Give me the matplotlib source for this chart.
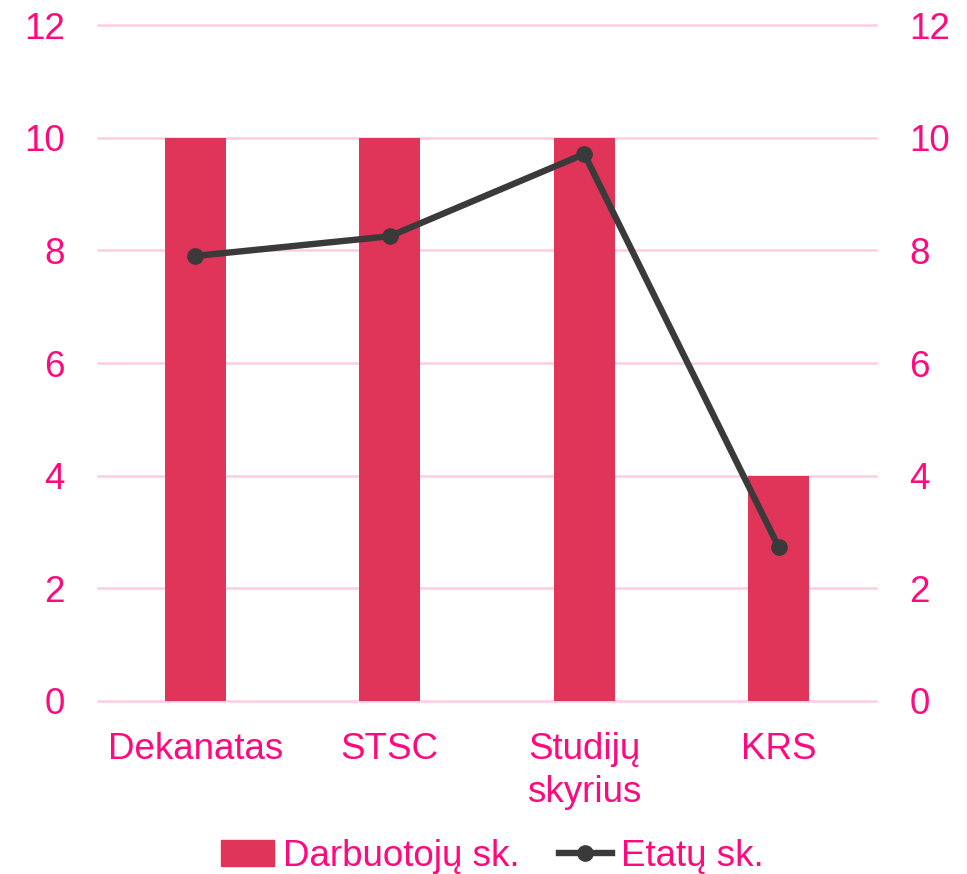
import matplotlib
matplotlib.use("Agg")
import matplotlib.pyplot as plt
from matplotlib.lines import Line2D
from matplotlib.patches import Patch

categories = ["Dekanatas", "STSC", "Studijų\nskyrius", "KRS"]
darbuotoju = [10, 10, 10, 4]
etatu = [7.9, 8.25, 9.71, 2.73]
yticks = [0, 2, 4, 6, 8, 10, 12]

bar_color = "#E03459"
text_color = "#FF0A7E"
line_color = "#3A3A3A"
grid_color = "#FFCCE3"

plt.rcParams['font.family'] = ['Liberation Sans', 'DejaVu Sans']

fig = plt.figure(figsize=(9.67, 8.74), dpi=100)
ax = fig.add_axes([98/967, 1 - 701/874, (876-98)/967, (701-25)/874])
x = list(range(len(categories)))
ax.bar(x, darbuotoju, width=0.314, color=bar_color, zorder=2)
ax.plot(x, etatu, color=line_color, lw=4.6, marker='o', markersize=11, zorder=3)

ax.set_xlim(-0.5, len(categories) - 0.5)
ax.set_ylim(0, 12)
ax.set_yticks(yticks)
ax.set_yticklabels([str(v) for v in yticks])
ax.set_xticks(x)
ax.set_xticklabels(categories, linespacing=1.3)
for s in ax.spines.values():
    s.set_visible(False)
ax.grid(axis='y', color=grid_color, lw=1.8, zorder=0)
for gl in ax.get_ygridlines():
    gl.set_clip_on(False)
ax.tick_params(axis='both', length=0, labelsize=26.5, labelcolor=text_color)
ax.tick_params(axis='y', pad=24)
ax.tick_params(axis='x', pad=22)

ax2 = ax.twinx()
ax2.set_ylim(0, 12)
ax2.set_yticks(yticks)
ax2.set_yticklabels([str(v) for v in yticks])
for s in ax2.spines.values():
    s.set_visible(False)
ax2.tick_params(axis='y', length=0, labelsize=26.5, labelcolor=text_color, pad=24)

handles = [Patch(color=bar_color, label="Darbuotojų sk."),
           Line2D([0], [0], color=line_color, lw=4.6, marker='o', markersize=11, label="Etatų sk.")]
leg = fig.legend(handles=handles, loc='center', bbox_to_anchor=(0.5 + 9/967, 1 - 856/874), ncol=2,
                 frameon=False, fontsize=26.5, handlelength=1.45, handletextpad=0.25,
                 columnspacing=1.05, labelcolor=text_color)

fig.savefig("out.png", dpi=100)
